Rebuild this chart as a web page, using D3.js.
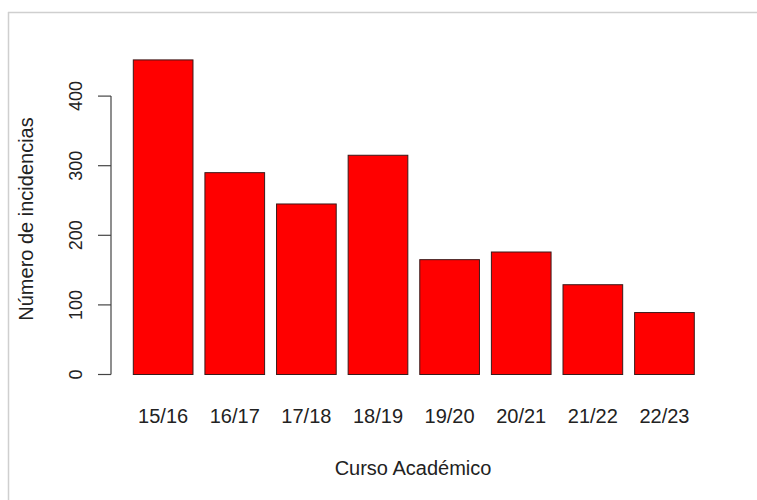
<!DOCTYPE html>
<html>
<head>
<meta charset="utf-8">
<script src="https://cdn.jsdelivr.net/npm/d3@7"></script>
<style>
  body { margin: 0; background: #fff; }
  svg { display: block; font-family: "Liberation Sans", Arial, sans-serif; }
</style>
</head>
<body>
<svg width="757" height="500"></svg>
<script>
"use strict";

const cursos = ["15/16", "16/17", "17/18", "18/19", "19/20", "20/21", "21/22", "22/23"];
const incidencias = [452, 290, 245, 315, 165, 176, 129, 89];
const yTicks = [0, 100, 200, 300, 400];

const svg = d3.select("svg");
const width = +svg.attr("width");
const height = +svg.attr("height");

// light frame round the picture (top and left only are visible)
svg.append("line").attr("x1", 8).attr("x2", width).attr("y1", 12.5).attr("y2", 12.5)
    .attr("stroke", "#cfcfcf").attr("stroke-width", 1.5);
svg.append("line").attr("x1", 8.5).attr("x2", 8.5).attr("y1", 12).attr("y2", height)
    .attr("stroke", "#cfcfcf").attr("stroke-width", 1.5);

const step = 71.57;
const xScale = d3.scaleBand()
    .domain(cursos)
    .range([133.3 - step / 12, 694.3 + step / 12])
    .paddingInner(1 / 6)
    .paddingOuter(1 / 12);

const yScale = d3.scaleLinear()
    .domain([0, 400])
    .range([374.5, 96.1]);

svg.selectAll(".bar")
    .data(cursos)
    .enter().append("rect")
    .attr("class", "bar")
    .attr("x", d => xScale(d))
    .attr("y", (d, i) => yScale(incidencias[i]))
    .attr("width", xScale.bandwidth())
    .attr("height", (d, i) => yScale(0) - yScale(incidencias[i]))
    .attr("fill", "#ff0000")
    .attr("stroke", "#3a1a1a")
    .attr("stroke-width", 1);

// y axis, R style: line only over the tick range
const yAxis = svg.append("g").attr("transform", "translate(111,0)");
yAxis.append("line")
    .attr("x1", 0).attr("x2", 0)
    .attr("y1", yScale(0)).attr("y2", yScale(400))
    .attr("stroke", "#444").attr("stroke-width", 1.2);
yAxis.selectAll(".tick")
    .data(yTicks)
    .enter().append("line")
    .attr("x1", -13).attr("x2", 0)
    .attr("y1", d => yScale(d)).attr("y2", d => yScale(d))
    .attr("stroke", "#444").attr("stroke-width", 1.2);
yAxis.selectAll(".ylab")
    .data(yTicks)
    .enter().append("text")
    .attr("class", "ylab")
    .attr("transform", d => `translate(-29,${yScale(d)}) rotate(-90)`)
    .attr("text-anchor", "middle")
    .attr("font-size", 18)
    .attr("fill", "#222")
    .text(d => d);

svg.selectAll(".xlab")
    .data(cursos)
    .enter().append("text")
    .attr("class", "xlab")
    .attr("x", d => xScale(d) + xScale.bandwidth() / 2)
    .attr("y", 423)
    .attr("text-anchor", "middle")
    .attr("font-size", 20)
    .attr("fill", "#222")
    .text(d => d);

svg.append("text")
    .attr("x", 413)
    .attr("y", 475)
    .attr("text-anchor", "middle")
    .attr("font-size", 20)
    .attr("fill", "#222")
    .text("Curso Académico");

svg.append("text")
    .attr("transform", "translate(33,219) rotate(-90)")
    .attr("text-anchor", "middle")
    .attr("font-size", 20)
    .attr("fill", "#222")
    .text("Número de incidencias");
</script>
</body>
</html>
